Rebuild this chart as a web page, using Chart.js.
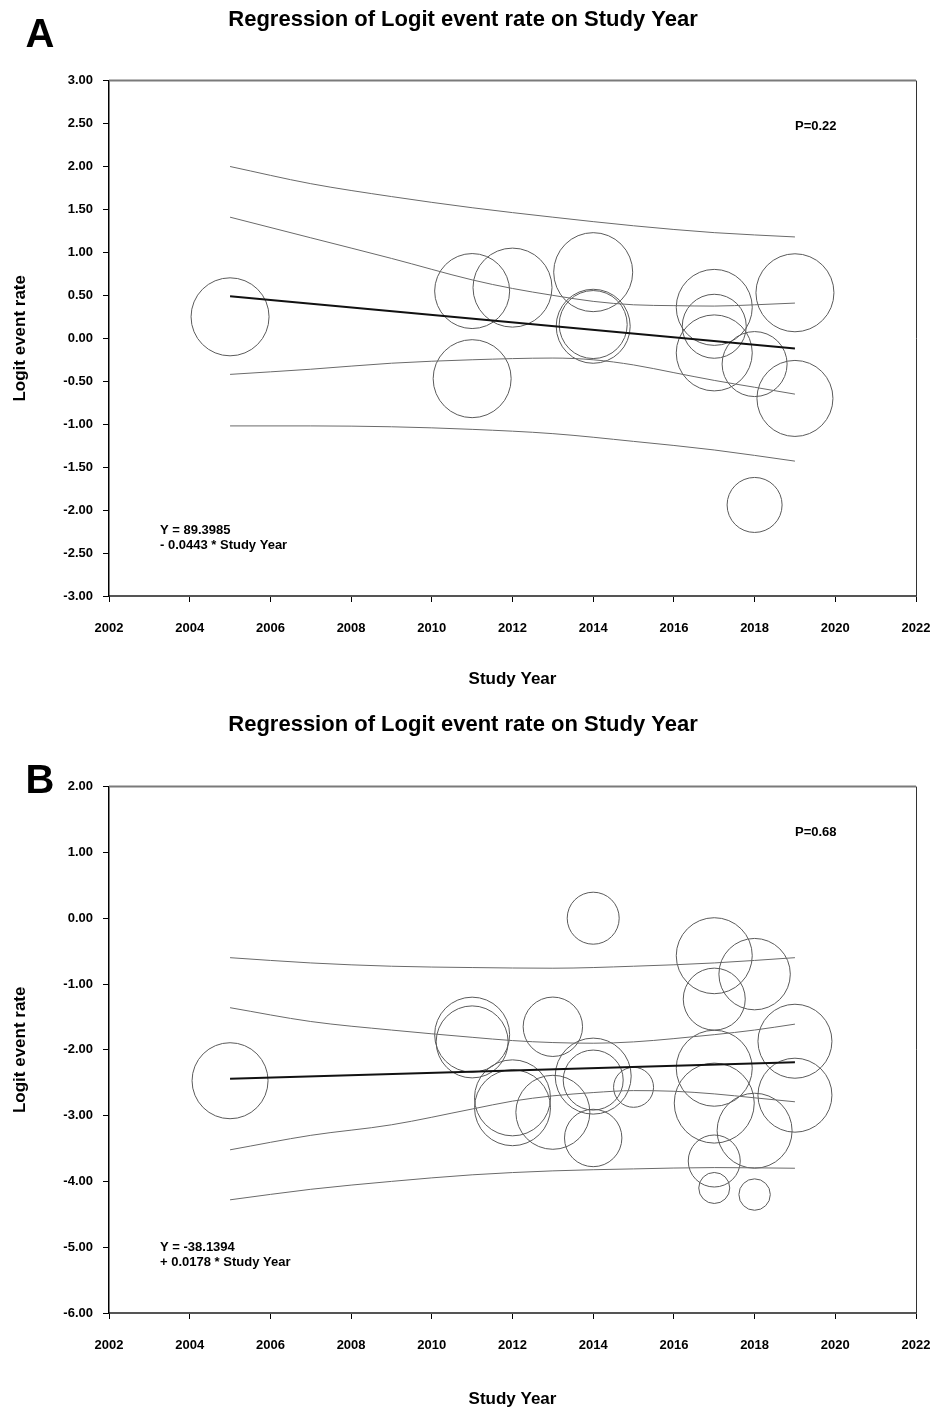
<!DOCTYPE html>
<html>
<head>
<meta charset="utf-8">
<script src="https://cdn.jsdelivr.net/npm/chart.js@4.4.1/dist/chart.umd.min.js"></script>
<style>
  html, body { margin: 0; padding: 0; background: #fff; }
  .panel { position: absolute; left: 0; width: 934px; height: 705px; }
  #wrapA { top: 0; }
  #wrapB { top: 705px; }
</style>
</head>
<body>
<div class="panel" id="wrapA"><canvas id="chartA"></canvas></div>
<div class="panel" id="wrapB"><canvas id="chartB"></canvas></div>
<script>
// ---------------- DATA: Panel A ----------------
const titleText = "Regression of Logit event rate on Study Year";
const xTitle = "Study Year";
const yTitle = "Logit event rate";

const studyYearsA   = [2005, 2011, 2011, 2012, 2014, 2014, 2014, 2017, 2017, 2017, 2018, 2018, 2019, 2019];
const logitRatesA   = [0.25, 0.55, -0.47, 0.59, 0.77, 0.14, 0.16, 0.36, 0.14, -0.17, -0.30, -1.94, 0.53, -0.70];
const studyWeightsA = [39, 37.5, 39, 39.5, 39.5, 37, 34, 38, 32, 38, 32.5, 27.5, 39, 38];

const fitYearsA = [2005, 2019];
const fitValuesA = [0.49, -0.12];

const ciInnerYearsA = [2005, 2007, 2009, 2011, 2012, 2013, 2014, 2015, 2016, 2017, 2018, 2019];
const ciInnerUpperA = [1.41, 1.17, 0.93, 0.68, 0.58, 0.50, 0.43, 0.39, 0.38, 0.375, 0.39, 0.41];
const ciInnerLowerYearsA = [2005, 2007, 2009, 2011, 2013, 2014, 2015, 2016, 2017, 2018, 2019];
const ciInnerLowerA = [-0.42, -0.36, -0.29, -0.25, -0.23, -0.25, -0.31, -0.40, -0.49, -0.57, -0.65];
const ciOuterYearsA = [2005, 2007, 2009, 2011, 2013, 2015, 2017, 2019];
const ciOuterUpperA = [2.00, 1.80, 1.65, 1.52, 1.41, 1.31, 1.23, 1.18];
const ciOuterLowerA = [-1.02, -1.02, -1.03, -1.06, -1.11, -1.20, -1.30, -1.43];

const yTicksA = { min: -3, max: 3, step: 0.5 };
const equationA = ["Y = 89.3985", "- 0.0443 * Study Year"];
const pValueA = "P=0.22";

// ---------------- DATA: Panel B ----------------
const studyYearsB   = [2005, 2011, 2011, 2012, 2012, 2013, 2013, 2014, 2014, 2014, 2014, 2015,
                       2017, 2017, 2017, 2017, 2017, 2017, 2018, 2018, 2018, 2019, 2019];
const logitRatesB   = [-2.47, -1.77, -1.88, -2.73, -2.88, -1.65, -2.95, 0.00, -2.40, -2.46, -3.34, -2.57,
                       -0.57, -1.23, -2.28, -2.81, -3.69, -4.10, -0.85, -3.23, -4.20, -1.87, -2.69];
const studyWeightsB = [38, 37.5, 36, 38, 38, 29.7, 37, 26, 38, 30, 28.7, 20,
                       38, 31, 38, 40, 26, 15.5, 35.7, 37.5, 15.7, 37, 37];

const fitYearsB = [2005, 2019];
const fitValuesB = [-2.44, -2.19];

const ciInnerYearsB = [2005, 2007, 2009, 2011, 2012, 2013, 2014, 2015, 2016, 2017, 2018, 2019];
const ciInnerUpperB = [-1.36, -1.57, -1.70, -1.81, -1.86, -1.89, -1.90, -1.88, -1.83, -1.77, -1.70, -1.61];
const ciInnerLowerB = [-3.52, -3.30, -3.14, -2.90, -2.78, -2.70, -2.65, -2.62, -2.63, -2.67, -2.73, -2.79];
const ciOuterYearsB = [2005, 2007, 2009, 2011, 2013, 2015, 2017, 2019];
const ciOuterUpperB = [-0.60, -0.68, -0.73, -0.75, -0.76, -0.73, -0.68, -0.60];
const ciOuterLowerB = [-4.28, -4.12, -4.00, -3.90, -3.84, -3.81, -3.79, -3.80];

const yTicksB = { min: -6, max: 2, step: 1 };
const equationB = ["Y = -38.1394", "+ 0.0178 * Study Year"];
const pValueB = "P=0.68";

const xTicks = { min: 2002, max: 2022, step: 2 };

// ---------------- helpers ----------------
const FONT = "'Liberation Sans', Arial, Helvetica, sans-serif";
const toPts = (xs, ys) => xs.map((x, i) => ({ x: x, y: ys[i] }));
const toBubbles = (xs, ys, ws) => xs.map((x, i) => ({ x: x, y: ys[i], r: ws[i] }));

function lineDs(xs, ys, opts) {
  return Object.assign({
    type: 'line',
    data: toPts(xs, ys),
    borderColor: '#6a6a6a',
    borderWidth: 1,
    pointRadius: 0,
    fill: false,
    cubicInterpolationMode: 'monotone'
  }, opts || {});
}

const panelPlugin = {
  id: 'panelDeco',
  afterDraw(chart, args, o) {
    const { ctx, chartArea: { left, right, top, bottom } } = chart;
    ctx.save();
    // frame: top + right
    ctx.strokeStyle = '#7a7a7a';
    ctx.lineWidth = 2;
    ctx.beginPath(); ctx.moveTo(left, top); ctx.lineTo(right, top); ctx.stroke();
    ctx.strokeStyle = '#333';
    ctx.lineWidth = 1;
    ctx.beginPath(); ctx.moveTo(right + 0.5, top); ctx.lineTo(right + 0.5, bottom); ctx.stroke();
    // texts
    ctx.fillStyle = '#000';
    ctx.textBaseline = 'middle';
    ctx.textAlign = 'left';
    ctx.font = 'bold 13px ' + FONT;
    ctx.fillText(o.pValue, left + 686, top + 46);
    ctx.fillText(o.equation[0], left + 51, bottom - 66);
    ctx.fillText(o.equation[1], left + 51, bottom - 51);
    // panel letter
    ctx.textAlign = 'center';
    ctx.font = 'bold 40px ' + FONT;
    ctx.fillText(o.letter, o.letterX, o.letterY);
    ctx.restore();
  }
};

function makeChart(canvasId, cfg) {
  const fitH = cfg.xAxisHeight;
  return new Chart(document.getElementById(canvasId), {
    type: 'bubble',
    data: {
      datasets: [
        lineDs(cfg.ciOuterYears, cfg.ciOuterUpper),
        lineDs(cfg.ciInnerYearsU, cfg.ciInnerUpper),
        lineDs(cfg.ciInnerYearsL, cfg.ciInnerLower),
        lineDs(cfg.ciOuterYears, cfg.ciOuterLower),
        lineDs(cfg.fitYears, cfg.fitValues, { borderColor: '#111', borderWidth: 2, cubicInterpolationMode: 'default', tension: 0 }),
        {
          type: 'bubble',
          data: toBubbles(cfg.years, cfg.values, cfg.weights),
          backgroundColor: 'rgba(0,0,0,0)',
          borderColor: '#5a5a5a',
          borderWidth: 1,
          hoverRadius: 0
        }
      ]
    },
    options: {
      responsive: true,
      maintainAspectRatio: false,
      animation: false,
      events: [],
      layout: { autoPadding: false, padding: { top: 0, left: 10, right: 18, bottom: 0 } },
      plugins: {
        legend: { display: false },
        tooltip: { enabled: false },
        title: {
          display: true,
          text: titleText,
          color: '#000',
          font: { family: FONT, size: 22, weight: 'bold' },
          padding: { top: 7, bottom: cfg.titleBottomPad }
        },
        panelDeco: { letter: cfg.letter, letterX: 40, letterY: cfg.letterY, pValue: cfg.pValue, equation: cfg.equation }
      },
      scales: {
        x: {
          type: 'linear',
          min: xTicks.min, max: xTicks.max,
          afterFit(scale) { scale.height = fitH; scale.paddingLeft = 0; scale.paddingRight = 0; },
          border: { display: true, color: '#555', width: 2 },
          grid: { drawOnChartArea: false, drawTicks: true, tickLength: 6, color: '#000', lineWidth: 1 },
          ticks: {
            stepSize: xTicks.step,
            autoSkip: false,
            maxRotation: 0,
            padding: 19,
            color: '#000',
            font: { family: FONT, size: 13, weight: 'bold' },
            callback: v => String(v)
          },
          title: {
            display: true, text: xTitle, color: '#000',
            font: { family: FONT, size: 17, weight: 'bold' },
            padding: { top: 0, bottom: cfg.xTitlePad }
          }
        },
        y: {
          type: 'linear',
          min: cfg.yTicks.min, max: cfg.yTicks.max,
          afterFit(scale) { scale.width = 99; },
          border: { display: true, color: '#000', width: 1.5 },
          grid: { drawOnChartArea: false, drawTicks: true, tickLength: 6, color: '#000', lineWidth: 1 },
          ticks: {
            stepSize: cfg.yTicks.step,
            autoSkip: false,
            padding: 10,
            color: '#000',
            font: { family: FONT, size: 13, weight: 'bold' },
            callback: v => Number(v).toFixed(2)
          },
          title: {
            display: true, text: yTitle, color: '#000',
            font: { family: FONT, size: 17, weight: 'bold' },
            padding: { top: 0, bottom: 0 }
          }
        }
      }
    },
    plugins: [panelPlugin]
  });
}

makeChart('chartA', {
  letter: 'A', letterY: 36,
  years: studyYearsA, values: logitRatesA, weights: studyWeightsA,
  fitYears: fitYearsA, fitValues: fitValuesA,
  ciInnerYearsU: ciInnerYearsA, ciInnerUpper: ciInnerUpperA,
  ciInnerYearsL: ciInnerLowerYearsA, ciInnerLower: ciInnerLowerA,
  ciOuterYears: ciOuterYearsA, ciOuterUpper: ciOuterUpperA, ciOuterLower: ciOuterLowerA,
  yTicks: yTicksA, pValue: pValueA, equation: equationA,
  titleBottomPad: 47.2, xAxisHeight: 109, xTitlePad: 15
});

makeChart('chartB', {
  letter: 'B', letterY: 77,
  years: studyYearsB, values: logitRatesB, weights: studyWeightsB,
  fitYears: fitYearsB, fitValues: fitValuesB,
  ciInnerYearsU: ciInnerYearsB, ciInnerUpper: ciInnerUpperB,
  ciInnerYearsL: ciInnerYearsB, ciInnerLower: ciInnerLowerB,
  ciOuterYears: ciOuterYearsB, ciOuterUpper: ciOuterUpperB, ciOuterLower: ciOuterLowerB,
  yTicks: yTicksB, pValue: pValueB, equation: equationB,
  titleBottomPad: 48.2, xAxisHeight: 97, xTitlePad: 0
});
</script>
</body>
</html>
